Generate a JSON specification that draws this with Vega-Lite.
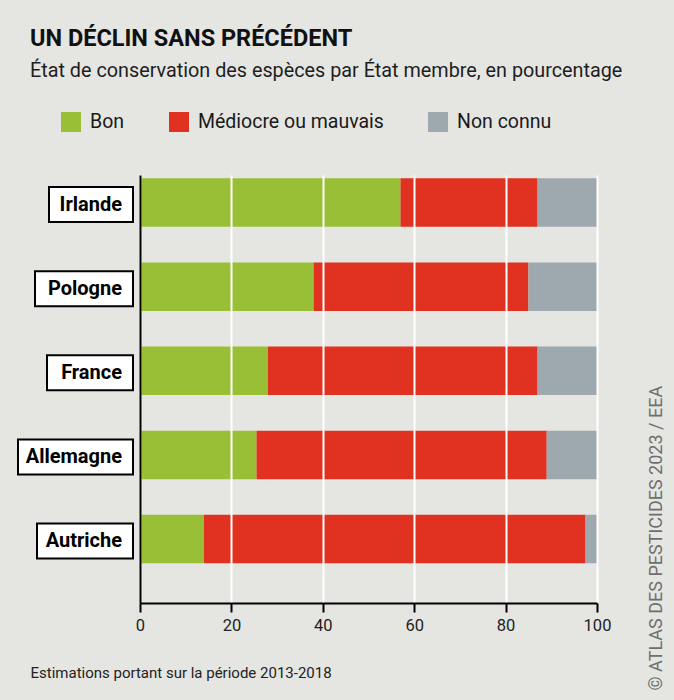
{
  "$schema": "https://vega.github.io/schema/vega-lite/v6.json",
  "width": 457,
  "height": 428,
  "autosize": {"type": "none"},
  "padding": {"left": 140, "top": 175, "right": 77, "bottom": 97},
  "background": "#e5e6e2",
  "config": {
    "font": "Roboto",
    "view": {"stroke": null}
  },
  "title": {
    "text": "UN DÉCLIN SANS PRÉCÉDENT",
    "subtitle": "État de conservation des espèces par État membre, en pourcentage",
    "anchor": "start",
    "frame": "group",
    "dx": -110,
    "offset": 31,
    "fontSize": 23.5,
    "fontWeight": "bold",
    "color": "#111111",
    "subtitleFontSize": 19.8,
    "subtitleColor": "#1e1e1e",
    "subtitlePadding": 11
  },
  "data": {
    "values": [
      {"pays": "Irlande", "etat": "Bon", "pct": 57},
      {"pays": "Irlande", "etat": "Médiocre ou mauvais", "pct": 30},
      {"pays": "Irlande", "etat": "Non connu", "pct": 13},
      {"pays": "Pologne", "etat": "Bon", "pct": 38},
      {"pays": "Pologne", "etat": "Médiocre ou mauvais", "pct": 47},
      {"pays": "Pologne", "etat": "Non connu", "pct": 15},
      {"pays": "France", "etat": "Bon", "pct": 28},
      {"pays": "France", "etat": "Médiocre ou mauvais", "pct": 59},
      {"pays": "France", "etat": "Non connu", "pct": 13},
      {"pays": "Allemagne", "etat": "Bon", "pct": 25.5},
      {"pays": "Allemagne", "etat": "Médiocre ou mauvais", "pct": 63.5},
      {"pays": "Allemagne", "etat": "Non connu", "pct": 11},
      {"pays": "Autriche", "etat": "Bon", "pct": 14},
      {"pays": "Autriche", "etat": "Médiocre ou mauvais", "pct": 83.5},
      {"pays": "Autriche", "etat": "Non connu", "pct": 2.5}
    ]
  },
  "layer": [
    {
      "mark": {"type": "bar"},
      "encoding": {
        "y": {
          "field": "pays",
          "type": "nominal",
          "sort": ["Irlande", "Pologne", "France", "Allemagne", "Autriche"],
          "scale": {"paddingInner": 0.4233, "paddingOuter": 0.256, "align": 0.077},
          "axis": {
            "labels": false,
            "ticks": false,
            "domainColor": "#000000",
            "domainWidth": 2,
            "zindex": 2,
            "title": "© ATLAS DES PESTICIDES 2023 / EEA",
            "titleAngle": 270,
            "titleX": 516,
            "titleY": 515,
            "titleAlign": "left",
            "titleBaseline": "middle",
            "titleFontSize": 18,
            "titleFontWeight": "normal",
            "titleColor": "#6f6f6f"
          }
        },
        "x": {
          "field": "pct",
          "type": "quantitative",
          "stack": "zero",
          "scale": {"domain": [0, 100]},
          "axis": {
            "values": [0, 20, 40, 60, 80, 100],
            "labelFlush": false,
            "grid": true,
            "gridColor": "#ffffff",
            "gridWidth": 2,
            "domainColor": "#000000",
            "domainWidth": 2,
            "tickColor": "#000000",
            "tickWidth": 2,
            "tickSize": 9,
            "labelFontSize": 16.5,
            "labelColor": "#222222",
            "labelPadding": 5,
            "zindex": 1,
            "title": "Estimations portant sur la période 2013-2018",
            "titleX": -110,
            "titleY": 74,
            "titleAlign": "left",
            "titleBaseline": "alphabetic",
            "titleFontWeight": "normal",
            "titleFontSize": 15,
            "titleColor": "#222222"
          }
        },
        "color": {
          "field": "etat",
          "type": "nominal",
          "scale": {
            "domain": ["Bon", "Médiocre ou mauvais", "Non connu"],
            "range": ["#98bf36", "#e03121", "#9ea8af"]
          },
          "legend": {
            "orient": "none",
            "legendX": -79,
            "legendY": -63,
            "direction": "horizontal",
            "title": null,
            "symbolType": "square",
            "symbolSize": 400,
            "symbolStrokeWidth": 0,
            "symbolOpacity": 1,
            "labelFontSize": 19.5,
            "labelLimit": 400,
            "labelColor": "#1a1a1a",
            "labelOffset": 9,
            "columnPadding": 44,
            "padding": 0
          }
        }
      }
    },
    {
      "transform": [
        {"filter": "datum.etat === 'Bon'"},
        {"calculate": "length(replace(datum.pays, regexp('[^Ilirtf]', 'g'), ''))", "as": "nNarrow"},
        {"calculate": "-(7 + 21 + 12 * (length(datum.pays) - datum.nNarrow) + 5 * datum.nNarrow) / 4.57", "as": "boxLeft"},
        {"calculate": "-7 / 4.57", "as": "boxRight"}
      ],
      "mark": {"type": "bar", "height": 35, "fill": "#ffffff", "stroke": "#000000", "strokeWidth": 2, "yOffset": 2},
      "encoding": {
        "y": {"field": "pays", "type": "nominal", "sort": ["Irlande", "Pologne", "France", "Allemagne", "Autriche"]},
        "x": {"field": "boxLeft", "type": "quantitative"},
        "x2": {"field": "boxRight"}
      }
    },
    {
      "transform": [{"filter": "datum.etat === 'Bon'"}],
      "mark": {"type": "text", "align": "right", "baseline": "middle", "dx": -18, "dy": 2, "fontSize": 20, "fontWeight": "bold", "color": "#000000"},
      "encoding": {
        "y": {"field": "pays", "type": "nominal", "sort": ["Irlande", "Pologne", "France", "Allemagne", "Autriche"]},
        "x": {"datum": 0, "type": "quantitative"},
        "text": {"field": "pays"}
      }
    }
  ]
}
